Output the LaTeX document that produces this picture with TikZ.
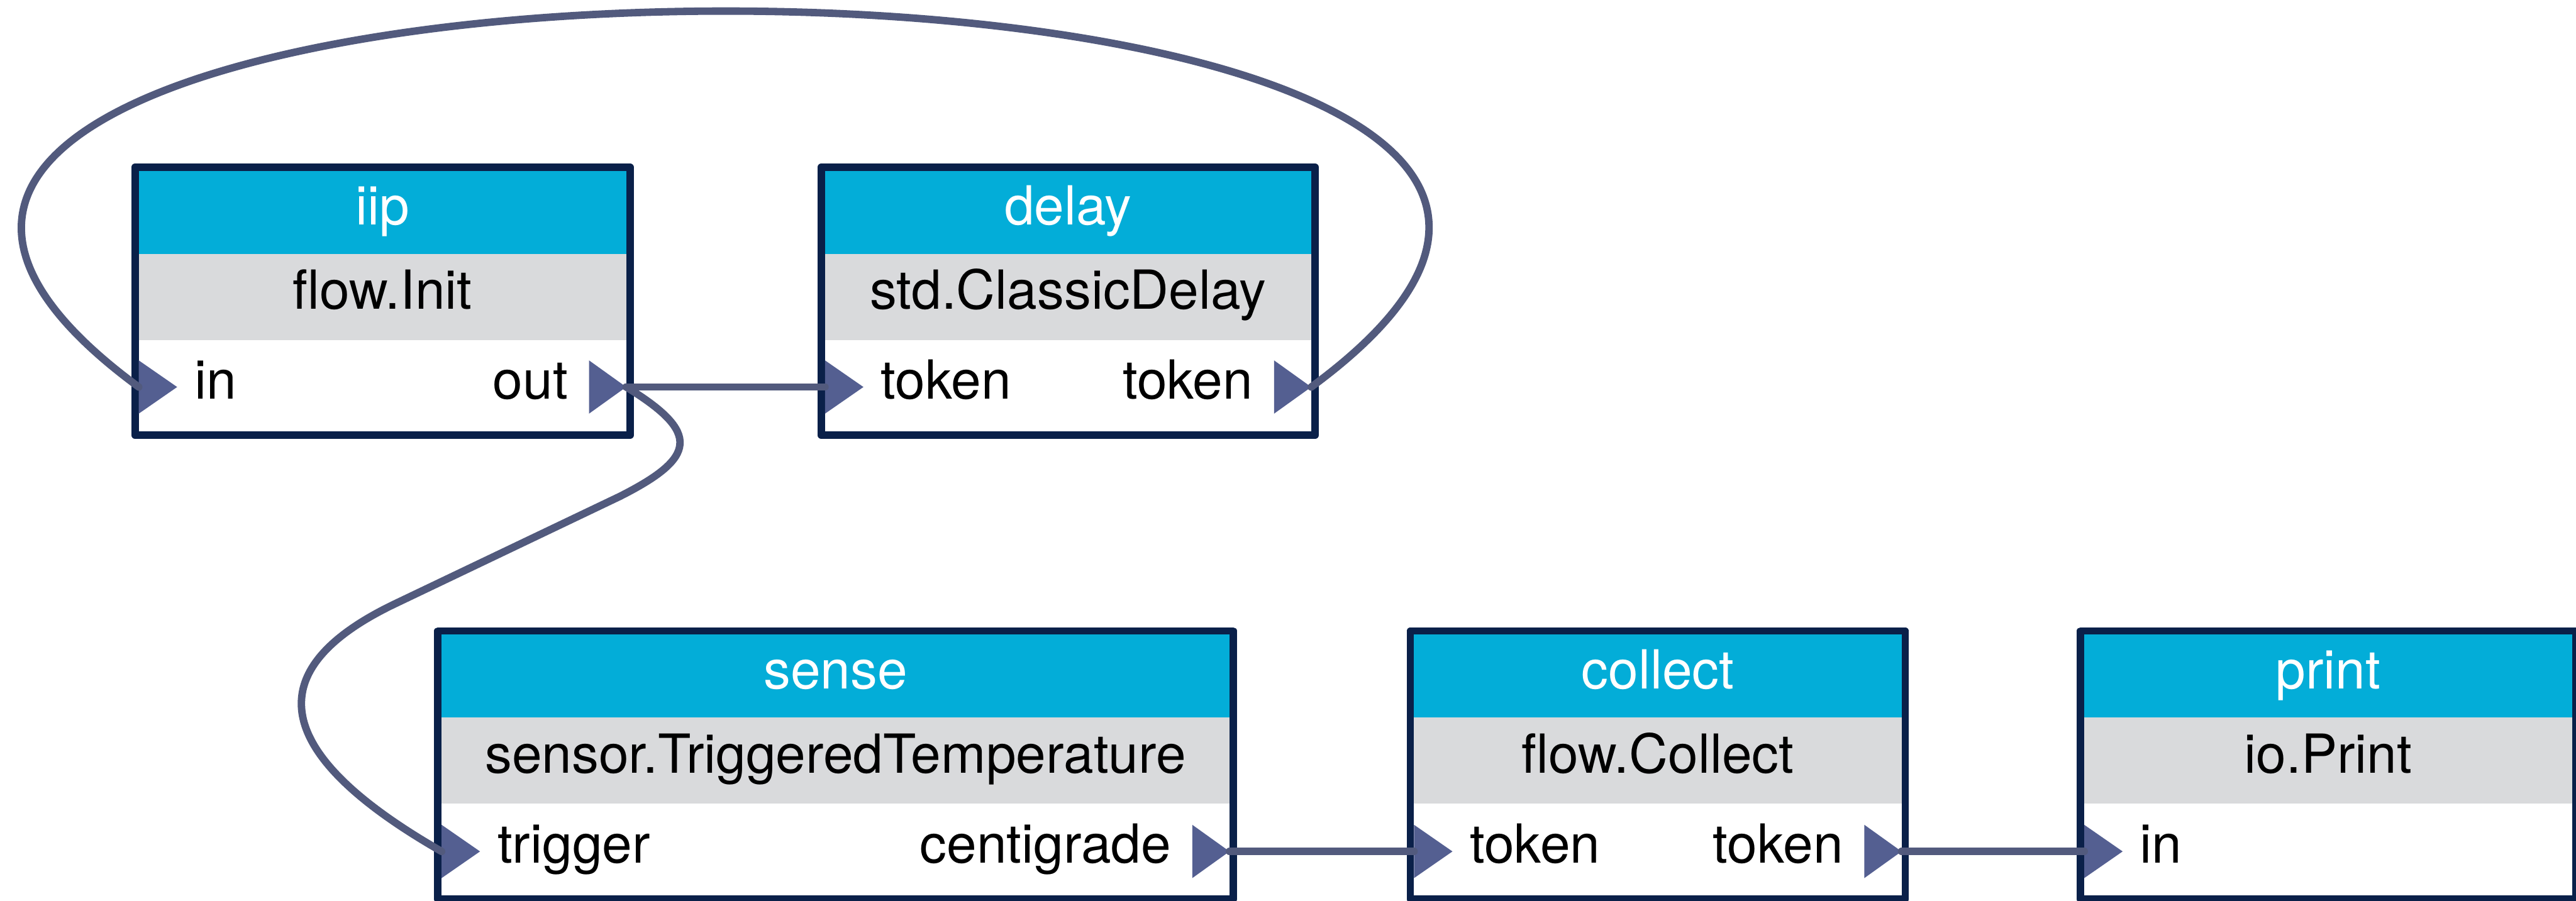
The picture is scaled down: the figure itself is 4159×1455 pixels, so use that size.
\documentclass[tikz,border=0pt]{standalone}
\usepackage{fontspec}
\setmainfont{TeX Gyre Heros}

\definecolor{frame}{HTML}{0A2049}
\definecolor{head}{HTML}{03ADD8}
\definecolor{band}{HTML}{D9DADC}
\definecolor{port}{HTML}{545F91}
\definecolor{wire}{HTML}{525A7D}

\tikzset{
  lbl/.style={inner sep=0pt, font=\fontsize{87}{100}\selectfont},
  headlbl/.style={lbl, text=white, anchor=base},
  typelbl/.style={lbl, text=black, anchor=base},
  inlbl/.style={lbl, anchor=base west},
  outlbl/.style={lbl, anchor=base east},
  frameline/.style={draw=frame, line width=12pt, line join=round},
  porttri/.style={fill=port},
  wireline/.style={draw=wire, line width=12pt, line cap=round},
}

% #1 id, #2 left, #3 top, #4 right, #5 bottom, #6 instance name, #7 actor type
\newcommand{\flowblock}[7]{%
  \fill[head] ({#2+6},{#3+6}) rectangle ({#4-6},{#3+146});
  \fill[band] ({#2+6},{#3+146}) rectangle ({#4-6},{#3+285});
  \fill[white] ({#2+6},{#3+285}) rectangle ({#4-6},{#5-6});
  \draw[frameline] ({#2+6},{#3+6}) rectangle ({#4-6},{#5-6});
  \node[headlbl] (#1) at ({(#2+#4)/2},{#3+99}) {#6};
  \node[typelbl] (#1-type) at ({(#2+#4)/2},{#3+235}) {#7};
}

% #1 port name, #2 outer left edge, #3 port y, #4 label
\newcommand{\inport}[4]{%
  \fill[porttri] ({#2+12},{#3-43}) -- ({#2+74},{#3}) -- ({#2+12},{#3+43}) -- cycle;
  \coordinate (#1) at ({#2+12},{#3});
  \node[inlbl] (#1-label) at ({#2+102},{#3+19}) {#4};
}

% #1 port name, #2 outer right edge, #3 port y, #4 label
\newcommand{\outport}[4]{%
  \fill[porttri] ({#2-12},{#3}) -- ({#2-72},{#3-43}) -- ({#2-72},{#3+43}) -- cycle;
  \coordinate (#1) at ({#2-12},{#3});
  \node[outlbl] (#1-label) at ({#2-106},{#3+19}) {#4};
}

\begin{document}
\begin{tikzpicture}[x=1pt,y=-1pt]
\useasboundingbox[fill=white] (0,0) rectangle (4159,1455);

% upper row
\flowblock{iip}{212}{264}{1023}{709}{iip}{flow.Init}
\inport{iip-in}{212}{625}{in}
\outport{iip-out}{1023}{625}{out}

\flowblock{delay}{1320}{264}{2129}{709}{delay}{std.ClassicDelay}
\inport{delay-in}{1320}{625}{token}
\outport{delay-out}{2129}{625}{token}

% lower row
\flowblock{sense}{701}{1013}{1997}{1458}{sense}{sensor.TriggeredTemperature}
\inport{sense-in}{701}{1375}{trigger}
\outport{sense-out}{1997}{1375}{centigrade}

\flowblock{collect}{2271}{1013}{3082}{1458}{collect}{flow.Collect}
\inport{collect-in}{2271}{1375}{token}
\outport{collect-out}{3082}{1375}{token}

\flowblock{print}{3353}{1013}{4165}{1458}{print}{io.Print}
\inport{print-in}{3353}{1375}{in}

% connections
\draw[wireline] (iip-out) -- (delay-in);
\draw[wireline] (delay-out) .. controls (3219,-185) and (-876,-184) .. (iip-in);
\draw[wireline] (iip-out) .. controls (1132,699) and (1125,739) .. (1000,802)
  -- (640,974) .. controls (387,1094) and (472,1237) .. (sense-in);
\draw[wireline] (sense-out) -- (collect-in);
\draw[wireline] (collect-out) -- (print-in);
\end{tikzpicture}
\end{document}
